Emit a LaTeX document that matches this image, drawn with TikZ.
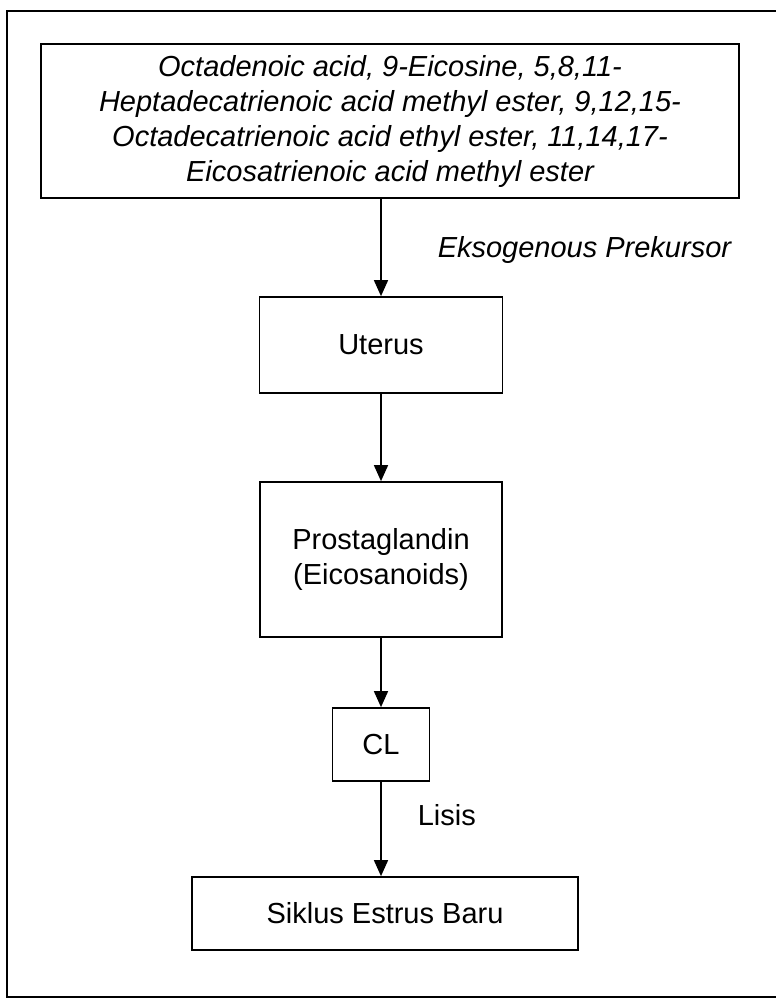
\documentclass[tikz,border=0pt]{standalone}
\usepackage{fontspec}
\setmainfont{Liberation Sans}
\usetikzlibrary{positioning, arrows.meta}

\begin{document}
\begin{tikzpicture}[x=1pt, y=-1pt]
	\tikzset{
		box/.style={draw, line width=1.7pt, inner sep=0pt, align=center, font=\fontsize{29}{35}\selectfont},
		flow/.style={line width=1.5pt, -{Triangle[width=14pt, length=16pt]}},
		lbl/.style={inner sep=0pt, font=\fontsize{29}{35}\selectfont}
	}
	\useasboundingbox (0,0) rectangle (776,999);
	
	% bingkai luar
	\draw[line width=1.8pt] (776,11) -- (7,11) -- (7,997) -- (776,997);
	
	% kotak
	\node[box, minimum width=698pt, minimum height=154pt, font=\itshape\fontsize{29}{35}\selectfont] (src) at (390,121)
		{Octadenoic acid, 9-Eicosine, 5,8,11-\\Heptadecatrienoic acid methyl ester, 9,12,15-\\Octadecatrienoic acid ethyl ester, 11,14,17-\\Eicosatrienoic acid methyl ester};
	\node[box, minimum width=243pt, minimum height=96pt] (uterus) at (381,345) {Uterus};
	\node[box, minimum width=242pt, minimum height=155pt] (pg) at (381,559.5) {Prostaglandin\\(Eicosanoids)};
	\node[box, minimum width=97pt, minimum height=73pt] (cl) at (381,744.5) {CL};
	\node[box, minimum width=386pt, minimum height=73pt] (siklus) at (385,913.5) {Siklus Estrus Baru};
	
	% panah
	\draw[flow] (src.south -| uterus.north) -- node[lbl, right=56pt, pos=0.53, font=\itshape\fontsize{29}{35}\selectfont] (eks) {Eksogenous Prekursor} (uterus.north);
	\draw[flow] (uterus.south) -- (pg.north);
	\draw[flow] (pg.south) -- (cl.north);
	\draw[flow] (cl.south) -- node[lbl, right=36pt, pos=0.35] (lisis) {Lisis} (cl.south |- siklus.north);
\end{tikzpicture}
\end{document}
